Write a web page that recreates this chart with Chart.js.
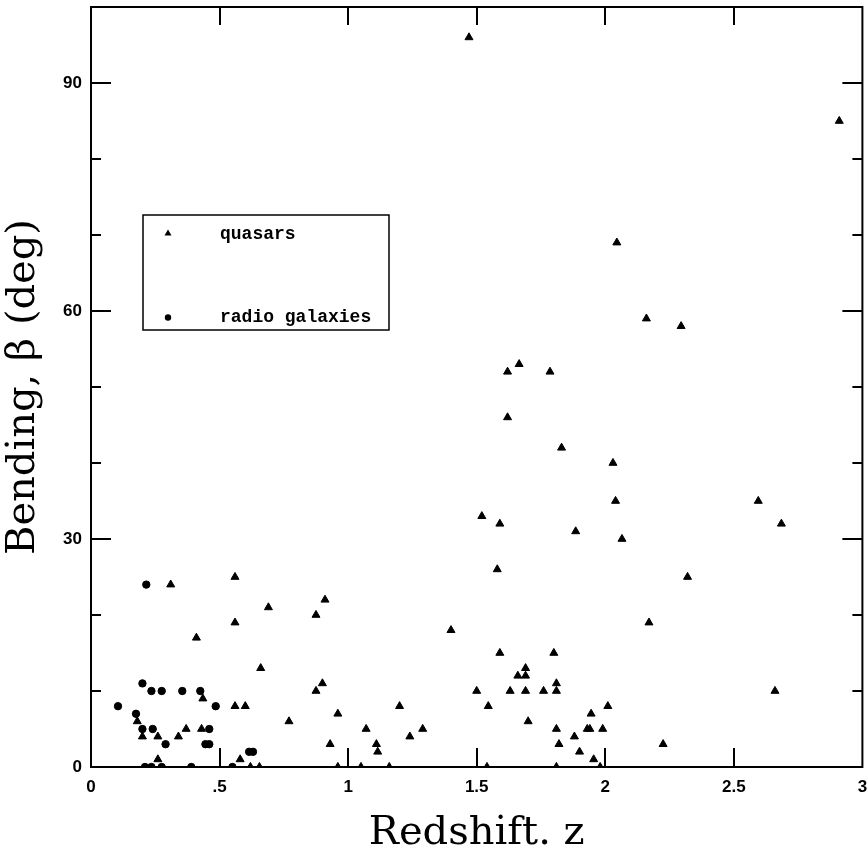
<!DOCTYPE html>
<html>
<head>
<meta charset="utf-8">
<script src="https://cdn.jsdelivr.net/npm/chart.js@4.4.0/dist/chart.umd.min.js"></script>
<style>
    html, body { margin: 0; padding: 0; background: #fff; }
    #wrap { width: 868px; height: 858px; }
</style>
</head>
<body>
<div id="wrap"><canvas id="bendChart" width="868" height="858"></canvas></div>
<script>
// Quasars: redshift z and bending angle beta (deg)
const quasarZ = [
    0.31, 0.56, 0.69, 0.56, 0.41, 0.66, 0.435, 0.56, 0.60, 0.18, 0.20, 0.26, 0.37, 0.43, 0.34, 0.26, 0.58, 0.62, 0.655,
    0.91, 0.875, 1.40, 0.90, 0.875, 0.77, 0.96, 1.20, 1.07, 1.29, 1.24, 0.93, 1.11, 1.115, 0.96, 1.05, 1.16,
    1.59, 1.80, 1.69, 1.66, 1.69, 1.50, 1.63, 1.69, 1.76, 1.81, 1.81, 1.545, 1.70, 2.01, 1.945,
    1.81, 1.93, 1.94, 1.99, 1.88, 1.82, 1.90, 1.955, 1.54, 1.81, 1.98,
    1.665, 1.62, 1.785, 1.62, 1.83, 2.03, 2.04, 1.52, 1.59, 1.885, 2.065, 1.58,
    2.595, 2.685, 2.32, 2.17, 2.66, 2.225, 1.47, 2.91, 2.045, 2.16, 2.295
];
const quasarBeta = [
    24, 25, 21, 19, 17, 13, 9, 8, 8, 6, 4, 4, 5, 5, 4, 1, 1, 0, 0,
    22, 20, 18, 11, 10, 6, 7, 8, 5, 5, 4, 3, 3, 2, 0, 0, 0,
    15, 15, 13, 12, 12, 10, 10, 10, 10, 10, 11, 8, 6, 8, 7,
    5, 5, 5, 5, 4, 3, 2, 1, 0, 0, 0,
    53, 52, 52, 46, 42, 40, 35, 33, 32, 31, 30, 26,
    35, 32, 25, 19, 10, 3, 96, 85, 69, 59, 58
];

// Radio galaxies
const galaxyZ = [
    0.215, 0.20, 0.235, 0.275, 0.355, 0.425, 0.105, 0.485, 0.175, 0.20, 0.24, 0.46,
    0.29, 0.445, 0.46, 0.615, 0.63, 0.21, 0.235, 0.275, 0.39, 0.55
];
const galaxyBeta = [
    24, 11, 10, 10, 10, 10, 8, 8, 7, 5, 5, 5,
    3, 3, 3, 2, 2, 0, 0, 0, 0, 0
];

// Axis ticks
const xTickValues = [0, 0.5, 1, 1.5, 2, 2.5, 3];
const xTickLabels = ['0', '.5', '1', '1.5', '2', '2.5', '3'];
const yTickValues = [0, 30, 60, 90];

const toPoints = (xs, ys) => xs.map((x, i) => ({ x: x, y: ys[i] }));

// Frame and inward tick marks on all four sides
const frameTicks = {
    id: 'frameTicks',
    afterDatasetsDraw(chart) {
        const { ctx, chartArea: a, scales: { x, y } } = chart;
        ctx.save();
        ctx.strokeStyle = '#000';
        ctx.lineWidth = 2;
        ctx.strokeRect(a.left, a.top, a.right - a.left, a.bottom - a.top);

        y.ticks.forEach(t => {
            if (t.value <= 0 || t.value >= 100) return;
            const py = Math.round(y.getPixelForValue(t.value));
            const len = yTickValues.includes(t.value) ? 20 : 10;
            ctx.beginPath();
            ctx.moveTo(a.left, py);
            ctx.lineTo(a.left + len, py);
            ctx.moveTo(a.right, py);
            ctx.lineTo(a.right - len, py);
            ctx.stroke();
        });

        x.ticks.forEach(t => {
            if (t.value <= 0 || t.value >= 3) return;
            const px = Math.round(x.getPixelForValue(t.value));
            ctx.beginPath();
            ctx.moveTo(px, a.bottom);
            ctx.lineTo(px, a.bottom - 19);
            ctx.moveTo(px, a.top);
            ctx.lineTo(px, a.top + 18);
            ctx.stroke();
        });
        ctx.restore();
    }
};

// Boxed legend inside the plot
const boxLegend = {
    id: 'boxLegend',
    afterDraw(chart) {
        const ctx = chart.ctx;
        ctx.save();
        ctx.strokeStyle = '#000';
        ctx.lineWidth = 1.5;
        ctx.strokeRect(143, 215, 246, 115);

        ctx.fillStyle = '#000';
        // triangle marker
        ctx.beginPath();
        ctx.moveTo(168, 229.5);
        ctx.lineTo(171.5, 235.5);
        ctx.lineTo(164.5, 235.5);
        ctx.closePath();
        ctx.fill();
        // circle marker
        ctx.beginPath();
        ctx.arc(168, 317.5, 3.2, 0, Math.PI * 2);
        ctx.fill();

        ctx.font = "bold 18px 'Liberation Mono', monospace";
        ctx.textBaseline = 'alphabetic';
        ctx.textAlign = 'left';
        ctx.fillText('quasars', 220, 239);
        ctx.fillText('radio galaxies', 220, 322);
        ctx.restore();
    }
};

const tickFont = { family: "'Liberation Sans', Arial, sans-serif", weight: 'bold', size: 17 };
const titleFont = { family: "'DejaVu Serif', serif", size: 40, lineHeight: 1.2 };

// keep the plot box where the reference has it, even if edge labels overhang
const noScalePadding = s => {
    s.paddingTop = 0;
    s.paddingBottom = 0;
    s.paddingLeft = 0;
    s.paddingRight = 0;
};

new Chart(document.getElementById('bendChart'), {
    type: 'scatter',
    data: {
        datasets: [
            {
                label: 'quasars',
                data: toPoints(quasarZ, quasarBeta),
                pointStyle: 'triangle',
                pointRadius: 4.6,
                backgroundColor: '#000',
                borderColor: '#000',
                borderWidth: 1
            },
            {
                label: 'radio galaxies',
                data: toPoints(galaxyZ, galaxyBeta),
                pointStyle: 'circle',
                pointRadius: 3.7,
                backgroundColor: '#000',
                borderColor: '#000',
                borderWidth: 1
            }
        ]
    },
    options: {
        responsive: false,
        animation: false,
        devicePixelRatio: 1,
        layout: { padding: { top: 7, right: 5, bottom: 0, left: 0 } },
        plugins: {
            legend: { display: false },
            tooltip: { enabled: false }
        },
        scales: {
            x: {
                type: 'linear',
                position: 'bottom',
                min: 0,
                max: 3,
                grid: { display: false, drawTicks: false },
                border: { display: false },
                ticks: {
                    stepSize: 0.5,
                    autoSkip: false,
                    maxRotation: 0,
                    padding: 10,
                    color: '#000',
                    font: tickFont,
                    callback: v => {
                        const i = xTickValues.indexOf(v);
                        return i >= 0 ? xTickLabels[i] : '';
                    }
                },
                title: {
                    display: true,
                    text: 'Redshift. z',
                    color: '#000',
                    font: titleFont,
                    padding: 0
                },
                afterFit: s => {
                    s.height = 91;
                    noScalePadding(s);
                }
            },
            y: {
                type: 'linear',
                position: 'left',
                min: 0,
                max: 100,
                grid: { display: false, drawTicks: false },
                border: { display: false },
                ticks: {
                    stepSize: 10,
                    autoSkip: false,
                    padding: 9,
                    color: '#000',
                    font: tickFont,
                    callback: v => yTickValues.includes(v) ? String(v) : ''
                },
                title: {
                    display: true,
                    text: 'Bending, β (deg)',
                    color: '#000',
                    font: titleFont,
                    padding: 0
                },
                afterFit: s => {
                    s.width = 91;
                    noScalePadding(s);
                }
            }
        }
    },
    plugins: [frameTicks, boxLegend]
});
</script>
</body>
</html>
